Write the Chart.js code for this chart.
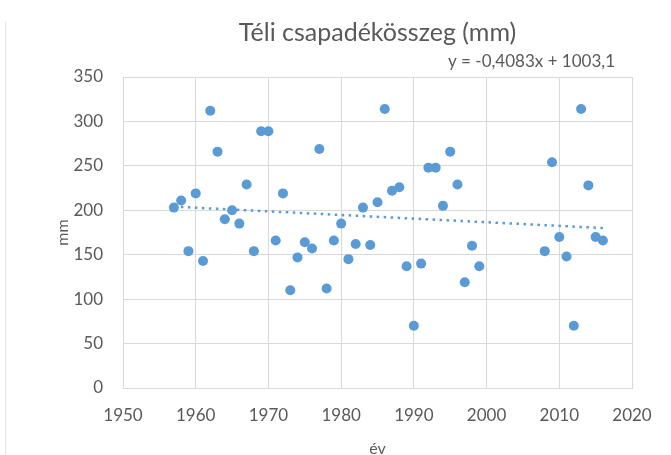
<!DOCTYPE html>
<html>
<head>
<meta charset="utf-8">
<script src="https://cdn.jsdelivr.net/npm/chart.js@4.4.1/dist/chart.umd.min.js"></script>
<style>
  html, body { margin: 0; padding: 0; background: #ffffff; }
  #wrap { position: relative; width: 671px; height: 455px; overflow: hidden; background: #fff; }
  #edge { position: absolute; left: 5px; top: 22px; bottom: 0; width: 1px; background: #e3e3e3; }
  canvas { display: block; }
</style>
</head>
<body>
<div id="wrap"><canvas id="c" width="671" height="455"></canvas><div id="edge"></div></div>
<script>
// ---- data ----
const years = [1957, 1958, 1959, 1960, 1961, 1962, 1963, 1964, 1965, 1966,
               1967, 1968, 1969, 1970, 1971, 1972, 1973, 1974, 1975, 1976,
               1977, 1978, 1979, 1980, 1981, 1982, 1983, 1984, 1985, 1986,
               1987, 1988, 1989, 1990, 1991, 1992, 1993, 1994, 1995, 1996,
               1997, 1998, 1999, 2008, 2009, 2010, 2011, 2012, 2013, 2014,
               2015, 2016];
const precipitation = [203, 211, 154, 219, 143, 312, 266, 190, 200, 185,
                       229, 154, 289, 289, 166, 219, 110, 147, 164, 157,
                       269, 112, 166, 185, 145, 162, 203, 161, 209, 314,
                       222, 226, 137, 70, 140, 248, 248, 205, 266, 229,
                       119, 160, 137, 154, 254, 170, 148, 70, 314, 228,
                       170, 166];
const trendYears = [1957, 2016];
const trendValues = [204.1, 180.0];
const xTicks = [1950, 1960, 1970, 1980, 1990, 2000, 2010, 2020];
const yTicks = [0, 50, 100, 150, 200, 250, 300, 350];
const titleText = 'Téli csapadékösszeg (mm)';
const equationText = 'y = -0,4083x + 1003,1';
const xTitle = 'év';
const yTitle = 'mm';

const grey = '#595959';
const gridCol = '#d9d9d9';
const blue = '#5b9bd5';

const scatterData = years.map((y, i) => ({ x: y, y: precipitation[i] }));
const trendData = trendYears.map((y, i) => ({ x: y, y: trendValues[i] }));

const equationPlugin = {
  id: 'equation',
  afterDraw(chart) {
    const ctx = chart.ctx;
    ctx.save();
    ctx.font = '17px Lato';
    ctx.fillStyle = grey;
    ctx.textAlign = 'right';
    ctx.textBaseline = 'middle';
    ctx.fillText(equationText, 615, 62);
    ctx.restore();
  }
};

Chart.defaults.font.family = 'Lato';
Chart.defaults.color = grey;

new Chart(document.getElementById('c'), {
  type: 'scatter',
  data: {
    datasets: [
      {
        label: 'trend',
        type: 'line',
        data: trendData,
        borderColor: blue,
        borderWidth: 2.5,
        borderDash: [2.5, 4.5],
        pointRadius: 0,
        fill: false,
        order: 0
      },
      {
        label: 'csapadék',
        data: scatterData,
        backgroundColor: blue,
        borderWidth: 0,
        pointRadius: 5,
        pointHoverRadius: 5,
        order: 1
      }
    ]
  },
  options: {
    responsive: false,
    animation: false,
    events: [],
    layout: { padding: { left: 0, right: 39, top: 0, bottom: 0 } },
    plugins: {
      legend: { display: false },
      tooltip: { enabled: false },
      title: {
        display: true,
        text: titleText,
        fullSize: false,
        color: grey,
        font: { size: 25, weight: 'normal', lineHeight: 1 },
        padding: { top: 20, bottom: 32 }
      }
    },
    scales: {
      x: {
        type: 'linear',
        min: xTicks[0],
        max: xTicks[xTicks.length - 1],
        afterBuildTicks(scale) { scale.ticks = xTicks.map(v => ({ value: v })); },
        afterFit(scale) { scale.height = 67; },
        grid: { color: gridCol, lineWidth: 1, drawTicks: false },
        border: { color: gridCol, width: 1 },
        ticks: {
          color: grey,
          font: { size: 17 },
          padding: 17,
          maxRotation: 0,
          callback: v => String(v)
        },
        title: {
          display: true,
          text: xTitle,
          color: grey,
          font: { size: 16, lineHeight: 1 },
          padding: { top: 0, bottom: -2 }
        }
      },
      y: {
        type: 'linear',
        min: yTicks[0],
        max: yTicks[yTicks.length - 1],
        afterBuildTicks(scale) { scale.ticks = yTicks.map(v => ({ value: v })); },
        afterFit(scale) { scale.width = 123; },
        grid: { color: gridCol, lineWidth: 1, drawTicks: false },
        border: { color: gridCol, width: 1 },
        ticks: {
          color: grey,
          font: { size: 17 },
          padding: 20,
          callback: v => String(v)
        },
        title: {
          display: true,
          text: yTitle,
          color: grey,
          font: { size: 16, lineHeight: 1 },
          padding: { top: 55, bottom: 0 }
        }
      }
    }
  },
  plugins: [equationPlugin]
});
</script>
</body>
</html>
